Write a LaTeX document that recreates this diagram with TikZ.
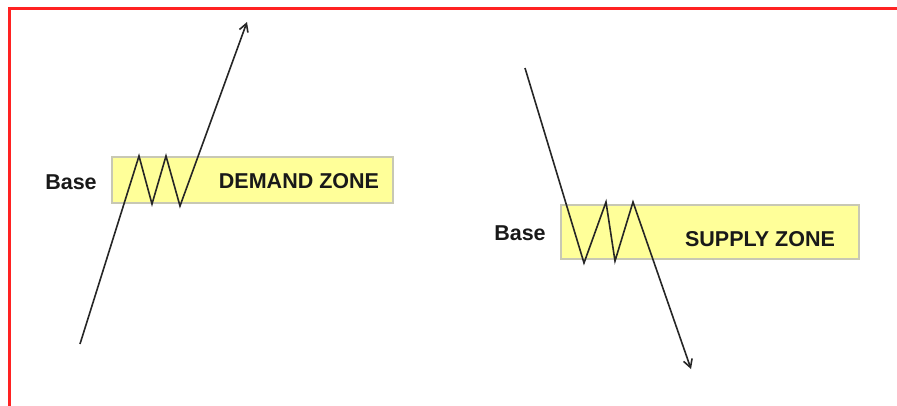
\documentclass[tikz,border=0pt]{standalone}
\usepackage{fontspec}
\setmainfont{Liberation Sans}
\usetikzlibrary{arrows.meta}
\definecolor{zonefill}{HTML}{FFFF99}
\definecolor{zoneedge}{HTML}{C8C8B4}
\definecolor{frame}{HTML}{FF2222}
\tikzset{
  zonebox/.style={draw=zoneedge, line width=1.6pt, fill=zonefill, inner sep=0pt},
  lbl/.style={font=\fontsize{21.5}{24}\selectfont\bfseries, inner sep=0pt, text=black!90},
  price/.style={draw=black!85, line width=1.6pt, line join=miter},
  pricearrow/.style={price, -{Straight Barb[length=8pt,width=9pt,line width=1.6pt]}}
}
\begin{document}
\begin{tikzpicture}[x=1pt,y=-1pt]
\useasboundingbox (0,0) rectangle (897,405);
\fill[white] (0,0) rectangle (897,405);
% red frame (cut off at right and bottom)
\begin{scope}
\clip (0,0) rectangle (897,405);
\draw[frame, line width=3pt] (9,420) -- (9,8.5) -- (910,8.5);
\end{scope}
% zones
\node[zonebox, minimum width=281pt, minimum height=46pt] (demand) at (252.5,180) {};
\node[zonebox, minimum width=298pt, minimum height=54pt] (supply) at (710,232) {};
% labels
\node[lbl] (base1) at (71,182) {Base};
\node[lbl] (dz) at (299,181) {DEMAND ZONE};
\node[lbl] (base2) at (520,233) {Base};
\node[lbl] (sz) at (760,239) {SUPPLY ZONE};
% demand price path
\coordinate (d0) at (80,344);
\coordinate (d1) at (139,156);
\coordinate (d2) at (152,204);
\coordinate (d3) at (166,156);
\coordinate (d4) at (180,206);
\coordinate (d5) at (247,22);
\draw[pricearrow] (d0) -- (d1) -- (d2) -- (d3) -- (d4) -- (d5);
% supply price path
\coordinate (s0) at (525,68);
\coordinate (s1) at (584,263);
\coordinate (s2) at (606,202);
\coordinate (s3) at (615,261);
\coordinate (s4) at (633,202);
\coordinate (s5) at (691,369);
\draw[pricearrow] (s0) -- (s1) -- (s2) -- (s3) -- (s4) -- (s5);
\end{tikzpicture}
\end{document}
